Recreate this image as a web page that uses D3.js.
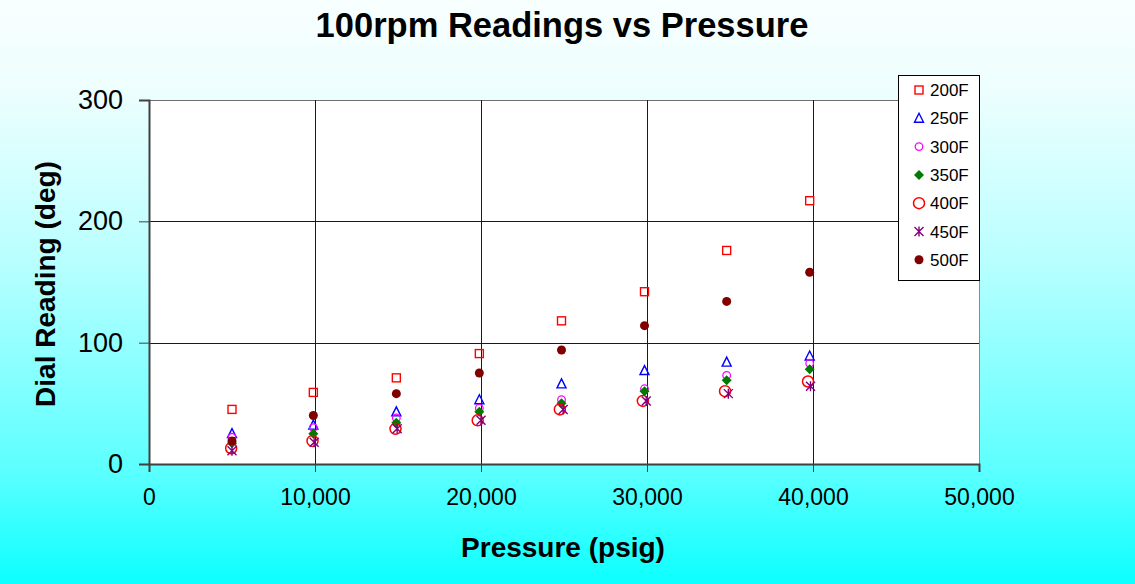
<!DOCTYPE html>
<html>
<head>
<meta charset="utf-8">
<script src="https://cdn.jsdelivr.net/npm/d3@7"></script>
<style>
  html, body { margin: 0; padding: 0; }
  svg { display: block; font-family: "Liberation Sans", Arial, sans-serif; }
</style>
</head>
<body>
<svg id="chart" width="1135" height="584"></svg>
<script>
// Series names (test temperature)
const seriesNames = ["200F", "250F", "300F", "350F", "400F", "450F", "500F"];

// Pressure (psig) at which each series was read
const pressureCommon = [5000, 9900, 14900, 19900, 24850, 29850, 34800, 39800];
const pressure400 = [4950, 9850, 14850, 19800, 24750, 29750, 34700, 39700];
const pressure450 = [5000, 9950, 14950, 20000, 24950, 29950, 34900, 39850];

// 100 rpm dial readings (deg)
const reading200 = [45, 59, 71, 91, 118, 142, 176, 217];
const reading250 = [25, 32, 43, 53, 66, 77, 84, 89];
const reading300 = [22, 30, 38, 46, 53, 62, 73, 83];
const reading350 = [17, 25, 34, 43, 50, 60, 69, 78];
const reading400 = [13, 19, 29, 36, 45, 52, 60, 68];
const reading450 = [11, 18, 29, 36, 45, 52, 58, 64];
const reading500 = [19, 40, 58, 75, 94, 114, 134, 158];

// Axis ticks
const xTicks = [0, 10000, 20000, 30000, 40000, 50000];
const yTicks = [0, 100, 200, 300];

const series = [
  { name: seriesNames[0], x: pressureCommon, y: reading200, marker: "square",   color: "#ff0000" },
  { name: seriesNames[1], x: pressureCommon, y: reading250, marker: "triangle", color: "#0000ff" },
  { name: seriesNames[2], x: pressureCommon, y: reading300, marker: "smallCircle", color: "#ff00ff" },
  { name: seriesNames[3], x: pressureCommon, y: reading350, marker: "diamond",  color: "#007a00" },
  { name: seriesNames[4], x: pressure400,    y: reading400, marker: "bigCircle", color: "#ff0000" },
  { name: seriesNames[5], x: pressure450,    y: reading450, marker: "star",     color: "#800080" },
  { name: seriesNames[6], x: pressureCommon, y: reading500, marker: "dot",      color: "#800000" }
];

const W = 1135, H = 584;
const plot = { left: 149, right: 979, top: 100, bottom: 464 };

const svg = d3.select("#chart");

// Background gradient: pale at the top, cyan at the bottom
const defs = svg.append("defs");
const grad = defs.append("linearGradient")
  .attr("id", "bg").attr("x1", 0).attr("y1", 0).attr("x2", 0).attr("y2", 1);
[[0, "#f8ffff"], [0.15, "#eefefe"], [0.45, "#b8ffff"], [0.8, "#5effff"], [1, "#0cffff"]]
  .forEach(([o, c]) => grad.append("stop").attr("offset", o).attr("stop-color", c));
svg.append("rect").attr("width", W).attr("height", H).attr("fill", "url(#bg)");

const x = d3.scaleLinear().domain([0, 50000]).range([plot.left, plot.right]);
const y = d3.scaleLinear().domain([0, 300]).range([plot.bottom, plot.top]);

// Plot area
svg.append("rect")
  .attr("x", plot.left).attr("y", plot.top)
  .attr("width", plot.right - plot.left).attr("height", plot.bottom - plot.top)
  .attr("fill", "#ffffff");

// Gridlines (the outer ones at the plot edge are lighter)
const grid = svg.append("g").attr("stroke-width", 1);
grid.selectAll("line.h").data(yTicks.filter(d => d > 0)).join("line")
  .attr("stroke", d => d === 300 ? "#6e6e6e" : "#1a1a1a")
  .attr("x1", plot.left).attr("x2", plot.right)
  .attr("y1", d => Math.round(y(d)) + 0.5).attr("y2", d => Math.round(y(d)) + 0.5);
grid.selectAll("line.v").data(xTicks.filter(d => d > 0)).join("line")
  .attr("stroke", d => d === 50000 ? "#8a8a8a" : "#1a1a1a")
  .attr("y1", plot.top).attr("y2", plot.bottom)
  .attr("x1", d => Math.round(x(d)) + 0.5).attr("x2", d => Math.round(x(d)) + 0.5);

// Axes
const xAxis = d3.axisBottom(x).tickValues(xTicks).tickSize(8).tickPadding(17)
  .tickFormat(d3.format(","));
const gx = svg.append("g").attr("transform", `translate(0,${plot.bottom})`).call(xAxis);
gx.select(".domain").attr("stroke", "#404040").attr("stroke-width", 2);
gx.selectAll(".tick line").attr("stroke", "#404040");
gx.selectAll(".tick text").attr("font-size", 23).attr("fill", "#000")
  .attr("font-family", "'Liberation Sans', Arial, sans-serif");

const yAxis = d3.axisLeft(y).tickValues(yTicks).tickSize(10).tickPadding(16);
const gy = svg.append("g").attr("transform", `translate(${plot.left},0)`).call(yAxis);
gy.select(".domain").attr("stroke", "#404040").attr("stroke-width", 2);
gy.selectAll(".tick line").attr("stroke", "#404040");
gy.selectAll(".tick text").attr("font-size", 27).attr("fill", "#000")
  .attr("font-family", "'Liberation Sans', Arial, sans-serif");

// Marker drawing
function drawMarker(g, type, color) {
  switch (type) {
    case "square":
      g.append("rect").attr("x", -4).attr("y", -4).attr("width", 8).attr("height", 8)
        .attr("fill", "none").attr("stroke", color).attr("stroke-width", 1.4);
      break;
    case "triangle":
      g.append("path").attr("d", "M0,-5L4.5,4L-4.5,4Z")
        .attr("fill", "none").attr("stroke", color).attr("stroke-width", 1.4);
      break;
    case "smallCircle":
      g.append("circle").attr("r", 3.8)
        .attr("fill", "none").attr("stroke", color).attr("stroke-width", 1.3);
      break;
    case "diamond":
      g.append("path").attr("d", "M0,-5L5,0L0,5L-5,0Z").attr("fill", color);
      break;
    case "bigCircle":
      g.append("circle").attr("r", 5.5)
        .attr("fill", "none").attr("stroke", color).attr("stroke-width", 1.5);
      break;
    case "star":
      g.append("path").attr("d", "M-4.5,-4.5L4.5,4.5M-4.5,4.5L4.5,-4.5M0,-5L0,5")
        .attr("fill", "none").attr("stroke", color).attr("stroke-width", 1.4);
      break;
    case "dot":
      g.append("circle").attr("r", 4.5).attr("fill", color);
      break;
  }
}

// Data points
series.forEach(s => {
  const pts = s.y.map((v, i) => ({ px: s.x[i], v }));
  svg.append("g").selectAll("g").data(pts).join("g")
    .attr("transform", d => `translate(${x(d.px)},${y(d.v)})`)
    .each(function () { drawMarker(d3.select(this), s.marker, s.color); });
});

// Legend
const legend = svg.append("g").attr("transform", "translate(898,75)");
legend.append("rect").attr("x", 0.5).attr("y", 0.5).attr("width", 81).attr("height", 205)
  .attr("fill", "#ffffff").attr("stroke", "#000").attr("stroke-width", 1);
series.forEach((s, i) => {
  const cy = 15 + i * 28.3;
  const m = legend.append("g").attr("transform", `translate(21,${cy})`);
  drawMarker(m, s.marker, s.color);
  legend.append("text").attr("x", 32).attr("y", cy + 6)
    .attr("font-size", 17).attr("fill", "#000").text(s.name);
});

// Titles
svg.append("text").attr("x", 562).attr("y", 37).attr("text-anchor", "middle")
  .attr("font-size", 34.5).attr("font-weight", "bold").text("100rpm Readings vs Pressure");
svg.append("text").attr("x", 563).attr("y", 557).attr("text-anchor", "middle")
  .attr("font-size", 28).attr("font-weight", "bold").text("Pressure (psig)");
svg.append("text").attr("transform", "translate(55,284) rotate(-90)").attr("text-anchor", "middle")
  .attr("font-size", 28).attr("font-weight", "bold").text("Dial Reading (deg)");
</script>
</body>
</html>
